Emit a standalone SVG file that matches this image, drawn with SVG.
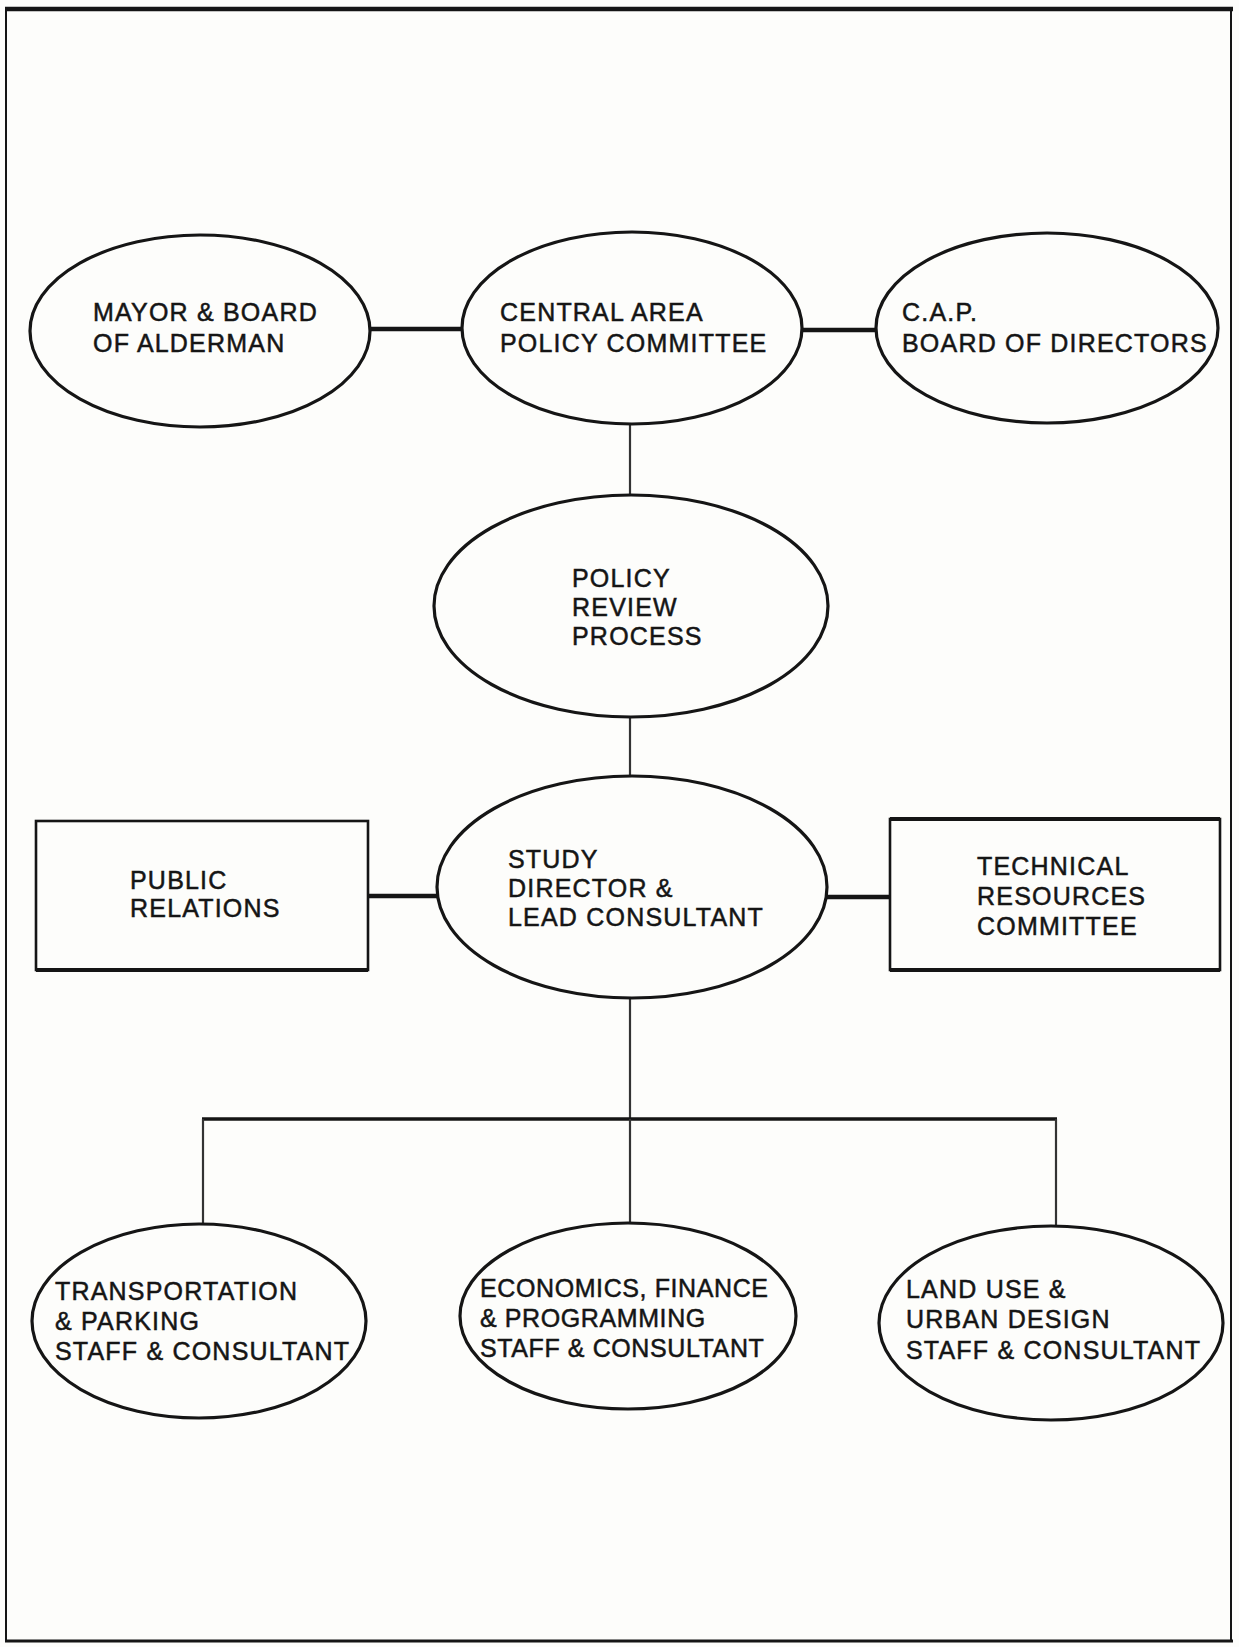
<svg xmlns="http://www.w3.org/2000/svg" width="1239" height="1647" viewBox="0 0 1239 1647">
<style>
.bg{fill:#fdfdfb}
.node{fill:none;stroke:#151515;stroke-width:3.2}
.box{fill:none;stroke:#151515;stroke-width:2.6}
.edge{fill:none;stroke:#151515;stroke-linecap:butt}
.h{stroke-width:4.5}
.v{stroke-width:2.2;stroke:#333}
text{font-family:"Liberation Sans",Arial,sans-serif;font-size:25px;fill:#151515;stroke:#151515;stroke-width:0.5;letter-spacing:1.2px}
.tight{letter-spacing:0.6px}
</style>
<rect class="bg" x="0" y="0" width="1239" height="1647"/>
<g id="frame">
<line x1="5" y1="9" x2="1233" y2="9" stroke="#151515" stroke-width="4.5"/>
<line x1="6" y1="8" x2="6" y2="1642" stroke="#151515" stroke-width="2"/>
<line x1="1231" y1="8" x2="1231" y2="1642" stroke="#151515" stroke-width="2"/>
<line x1="5" y1="1641" x2="1233" y2="1641" stroke="#151515" stroke-width="3"/>
</g>
<g id="connectors">
<line class="edge h" x1="370" y1="329" x2="462" y2="329"/>
<line class="edge h" x1="802" y1="330" x2="877" y2="330"/>
<line class="edge v" x1="630" y1="423" x2="630" y2="495"/>
<line class="edge v" x1="630" y1="717" x2="630" y2="777"/>
<line class="edge h" x1="368" y1="896" x2="437" y2="896"/>
<line class="edge h" x1="827" y1="897" x2="890" y2="897"/>
<line class="edge v" x1="630" y1="998" x2="630" y2="1119"/>
<line class="edge" stroke-width="3.5" x1="202" y1="1119" x2="1057" y2="1119"/>
<line class="edge v" x1="203" y1="1119" x2="203" y2="1224"/>
<line class="edge v" x1="630" y1="1119" x2="630" y2="1223"/>
<line class="edge v" x1="1056" y1="1119" x2="1056" y2="1227"/>
</g>
<g id="mayor">
<ellipse class="node" cx="200" cy="331" rx="170" ry="96"/>
<text x="93" y="321">MAYOR &amp; BOARD</text>
<text x="93" y="352">OF ALDERMAN</text>
</g>
<g id="central">
<ellipse class="node" cx="632" cy="328" rx="170" ry="96"/>
<text x="500" y="321">CENTRAL AREA</text>
<text x="500" y="352">POLICY COMMITTEE</text>
</g>
<g id="cap">
<ellipse class="node" cx="1047" cy="328" rx="171" ry="95"/>
<text x="902" y="321">C.A.P.</text>
<text x="902" y="352">BOARD OF DIRECTORS</text>
</g>
<g id="policy">
<ellipse class="node" cx="631" cy="606" rx="197" ry="111"/>
<text x="572" y="587">POLICY</text>
<text x="572" y="616">REVIEW</text>
<text x="572" y="645">PROCESS</text>
</g>
<g id="study">
<ellipse class="node" cx="632" cy="887" rx="195" ry="111"/>
<text x="508" y="868">STUDY</text>
<text x="508" y="897">DIRECTOR &amp;</text>
<text x="508" y="926">LEAD CONSULTANT</text>
</g>
<g id="public">
<rect class="box" x="36" y="821" width="332" height="149"/>
<line x1="36" y1="970" x2="368" y2="970" stroke="#151515" stroke-width="4"/>
<text x="130" y="889">PUBLIC</text>
<text x="130" y="917">RELATIONS</text>
</g>
<g id="technical">
<rect class="box" x="890" y="819" width="330" height="151"/>
<line x1="890" y1="819" x2="1220" y2="819" stroke="#151515" stroke-width="4"/>
<line x1="890" y1="970" x2="1220" y2="970" stroke="#151515" stroke-width="4"/>
<text x="977" y="875">TECHNICAL</text>
<text x="977" y="905">RESOURCES</text>
<text x="977" y="935">COMMITTEE</text>
</g>
<g id="transportation">
<ellipse class="node" cx="199" cy="1321" rx="167" ry="97"/>
<text x="55" y="1300">TRANSPORTATION</text>
<text x="55" y="1330">&amp; PARKING</text>
<text x="55" y="1360">STAFF &amp; CONSULTANT</text>
</g>
<g id="economics">
<ellipse class="node" cx="628" cy="1316" rx="168" ry="93"/>
<text class="tight" x="480" y="1297">ECONOMICS, FINANCE</text>
<text class="tight" x="480" y="1327">&amp; PROGRAMMING</text>
<text class="tight" x="480" y="1357">STAFF &amp; CONSULTANT</text>
</g>
<g id="landuse">
<ellipse class="node" cx="1051" cy="1323" rx="172" ry="97"/>
<text x="906" y="1298">LAND USE &amp;</text>
<text x="906" y="1328">URBAN DESIGN</text>
<text x="906" y="1359">STAFF &amp; CONSULTANT</text>
</g>
</svg>
